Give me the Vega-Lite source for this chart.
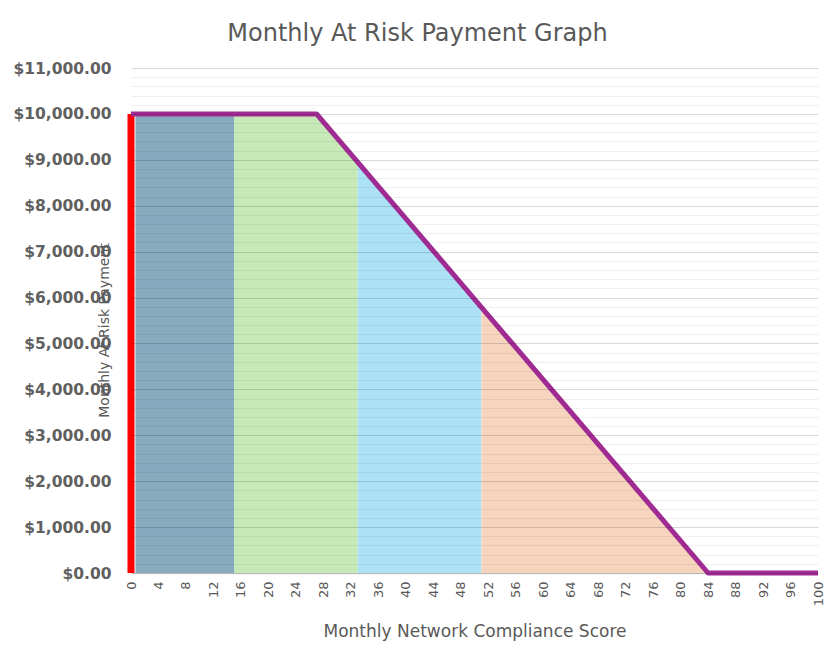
{
  "$schema": "https://vega.github.io/schema/vega-lite/v6.json",
  "width": 687,
  "height": 505,
  "autosize": {"type": "none"},
  "padding": {"left": 131, "top": 68, "right": 12, "bottom": 92},
  "background": "white",
  "config": {
    "view": {"stroke": null},
    "font": "DejaVu Sans"
  },
  "title": {
    "text": "Monthly At Risk Payment Graph",
    "fontSize": 24,
    "fontWeight": "normal",
    "color": "#595959",
    "font": "DejaVu Sans",
    "anchor": "middle",
    "dx": -57,
    "offset": 15
  },
  "datasets": {
    "regions": [
      {"region": "A", "score": 0.65, "pay": 10000},
      {"region": "A", "score": 15, "pay": 10000},
      {"region": "B", "score": 15, "pay": 10000},
      {"region": "B", "score": 27, "pay": 10000},
      {"region": "B", "score": 33, "pay": 8950},
      {"region": "C", "score": 33, "pay": 8950},
      {"region": "C", "score": 51, "pay": 5790},
      {"region": "D", "score": 51, "pay": 5790},
      {"region": "D", "score": 84, "pay": 0}
    ],
    "curve": [
      {"score": 0, "pay": 10000},
      {"score": 27, "pay": 10000},
      {"score": 84, "pay": 0},
      {"score": 100, "pay": 0}
    ],
    "red": [
      {"score": 0, "pay": 10000}
    ]
  },
  "layer": [
    {
      "data": {"name": "regions"},
      "mark": {"type": "area"},
      "encoding": {
        "x": {
          "field": "score",
          "type": "quantitative",
          "scale": {"domain": [0, 100], "nice": false, "zero": false},
          "axis": {
            "values": [0,4,8,12,16,20,24,28,32,36,40,44,48,52,56,60,64,68,72,76,80,84,88,92,96,100],
            "tickCount": 200,
            "format": "d",
            "labelAngle": -90,
            "labelFontSize": 13,
            "labelColor": "#595959",
            "labelPadding": 8,
            "ticks": false,
            "grid": false,
            "domainColor": "#D9D9D9",
            "domainWidth": 1.5,
            "title": "Monthly Network Compliance Score",
            "titleFontSize": 17,
            "titleFontWeight": "normal",
            "titleColor": "#595959",
            "titleX": 343.5,
            "titleY": 58,
            "titleBaseline": "middle",
            "labelOverlap": false
          }
        },
        "y": {
          "field": "pay",
          "type": "quantitative",
          "stack": null,
          "scale": {"domain": [0, 11000], "nice": false},
          "axis": {
            "values": [0,200,400,600,800,1000,1200,1400,1600,1800,2000,2200,2400,2600,2800,3000,3200,3400,3600,3800,4000,4200,4400,4600,4800,5000,5200,5400,5600,5800,6000,6200,6400,6600,6800,7000,7200,7400,7600,7800,8000,8200,8400,8600,8800,9000,9200,9400,9600,9800,10000,10200,10400,10600,10800,11000],
            "tickCount": 200,
            "format": "$,.2f",
            "labelExpr": "datum.value % 1000 === 0 ? datum.label : ''",
            "labelOverlap": false,
            "labelFontSize": 15.5,
            "labelFontWeight": "bold",
            "labelColor": "#606060",
            "labelPadding": 20,
            "ticks": false,
            "domain": false,
            "grid": true,
            "gridColor": "black",
            "gridOpacity": {"condition": {"test": "datum.value % 1000 === 0", "value": 0.15}, "value": 0.06},
            "zindex": 1,
            "title": "Monthly At Risk Payment",
            "titleFontSize": 14,
            "titleFontWeight": "normal",
            "titleColor": "#595959",
            "titleX": -27,
            "titleY": 262,
            "titleAlign": "center",
            "titleBaseline": "middle"
          }
        },
        "color": {
          "field": "region",
          "type": "nominal",
          "scale": {"domain": ["A", "B", "C", "D"], "range": ["#88AABE", "#C6E9B7", "#ADE1F6", "#F7D4BE"]},
          "legend": null
        },
        "detail": {"field": "region"}
      }
    },
    {
      "data": {"name": "red"},
      "mark": {"type": "rule", "color": "#FF0000", "strokeWidth": 7},
      "encoding": {
        "x": {"field": "score", "type": "quantitative"},
        "y": {"field": "pay", "type": "quantitative"},
        "y2": {"datum": 0}
      }
    },
    {
      "data": {"name": "curve"},
      "mark": {"type": "line", "color": "#A02B93", "strokeWidth": 5, "strokeJoin": "round"},
      "encoding": {
        "x": {"field": "score", "type": "quantitative"},
        "y": {"field": "pay", "type": "quantitative"}
      }
    }
  ]
}
